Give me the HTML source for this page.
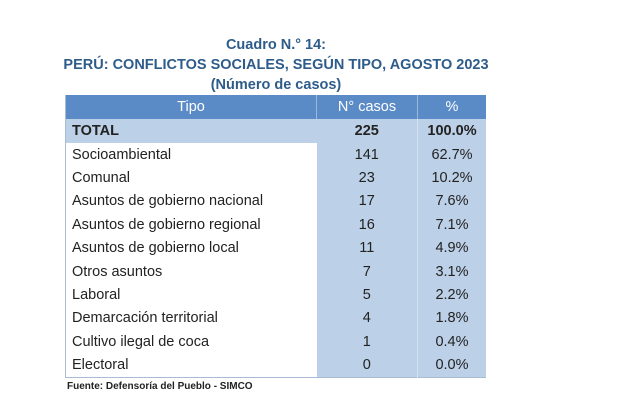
<!DOCTYPE html>
<html><head><meta charset="utf-8"><style>
body{margin:0;width:620px;height:411px;background:#fff;font-family:"Liberation Sans",sans-serif;position:relative;overflow:hidden}
.t{position:absolute;left:0;width:552px;text-align:center;color:#2e5c8a;font-weight:bold;font-size:14.5px}
table{position:absolute;left:65px;top:95px;border-collapse:collapse;font-size:14.5px;color:#222}
td,th{padding:2px 6px 0 6px;height:21.4px;line-height:21.4px;box-sizing:content-box}
th{background:#5b8bc6;color:#fff;font-weight:normal;padding:0 6px;height:24px;line-height:24px;border-right:1px solid #9bb7dc}
tr.tot td{padding-top:1px;height:22.5px;line-height:22.5px}
td.n,td.p{text-align:center;background:#bcd0e8}
td.n{border-right:1px solid #d5e1f0}
tr.tot td{background:#bcd0e8;font-weight:bold}
td.a{background:#fff}
table{border-left:1px solid #a8bcd4;border-bottom:1px solid #a8bcd4}
.f{position:absolute;left:67px;top:381px;font-size:10px;font-weight:bold;color:#222}
</style></head><body>
<div class="t" style="top:37px">Cuadro N.° 14:</div>
<div class="t" style="top:57px">PERÚ: CONFLICTOS SOCIALES, SEGÚN TIPO, AGOSTO 2023</div>
<div class="t" style="top:77px">(Número de casos)</div>
<table>
<tr><th style="width:238px">Tipo</th><th style="width:88px">N° casos</th><th style="width:56px;border-right:none">%</th></tr>
<tr class="tot"><td>TOTAL</td><td class="n">225</td><td class="p">100.0%</td></tr>
<tr><td class="a">Socioambiental</td><td class="n">141</td><td class="p">62.7%</td></tr>
<tr><td class="a">Comunal</td><td class="n">23</td><td class="p">10.2%</td></tr>
<tr><td class="a">Asuntos de gobierno nacional</td><td class="n">17</td><td class="p">7.6%</td></tr>
<tr><td class="a">Asuntos de gobierno regional</td><td class="n">16</td><td class="p">7.1%</td></tr>
<tr><td class="a">Asuntos de gobierno local</td><td class="n">11</td><td class="p">4.9%</td></tr>
<tr><td class="a">Otros asuntos</td><td class="n">7</td><td class="p">3.1%</td></tr>
<tr><td class="a">Laboral</td><td class="n">5</td><td class="p">2.2%</td></tr>
<tr><td class="a">Demarcación territorial</td><td class="n">4</td><td class="p">1.8%</td></tr>
<tr><td class="a">Cultivo ilegal de coca</td><td class="n">1</td><td class="p">0.4%</td></tr>
<tr><td class="a">Electoral</td><td class="n">0</td><td class="p">0.0%</td></tr>
</table>
<div class="f">Fuente: Defensoría del Pueblo - SIMCO</div>
</body></html>
